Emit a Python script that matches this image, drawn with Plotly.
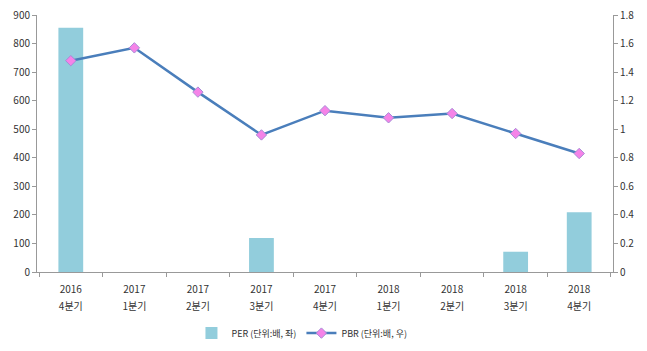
import plotly.graph_objects as go

years = ["2016", "2017", "2017", "2017", "2017", "2018", "2018", "2018", "2018"]
quarters = ["4분기", "1분기", "2분기", "3분기", "4분기", "1분기", "2분기", "3분기", "4분기"]
per_values = [855, None, None, 119, None, None, None, 71, 209]
pbr_values = [1.48, 1.57, 1.26, 0.96, 1.13, 1.08, 1.11, 0.97, 0.83]
left_ticks = [0, 100, 200, 300, 400, 500, 600, 700, 800, 900]
right_ticks = [0, 0.2, 0.4, 0.6, 0.8, 1, 1.2, 1.4, 1.6, 1.8]

categories = [f"{y}|{q}|{i}" for i, (y, q) in enumerate(zip(years, quarters))]
ticktext = [f"<span style='font-size:10px'>{y}</span><br><span style='font-size:10px'>{q}</span>"
            for y, q in zip(years, quarters)]

font_family = "Noto Sans CJK KR, DejaVu Sans, sans-serif"

fig = go.Figure()
fig.add_trace(go.Bar(
    x=categories, y=per_values, name="PER (단위:배, 좌)",
    marker=dict(color="#92CDDC", line=dict(width=0)), width=0.39, yaxis="y"
))
fig.add_trace(go.Scatter(
    x=categories, y=pbr_values, name="PBR (단위:배, 우)", yaxis="y2",
    mode="lines+markers",
    line=dict(color="#4A7EBB", width=2.5),
    marker=dict(symbol="diamond", size=8, color="#F583E8", line=dict(color="#A78BD6", width=1))
))

fig.update_layout(
    width=647, height=351,
    margin=dict(l=37, r=34, t=15, b=79, autoexpand=False),
    paper_bgcolor="white", plot_bgcolor="white",
    font=dict(family=font_family, size=10, color="#333333"),
    showlegend=True,
    legend=dict(orientation="h", x=0.46, xanchor="center",
                yref="container", y=0.051, yanchor="middle",
                font=dict(size=9, color="#333333"), itemwidth=30),
    xaxis=dict(
        automargin=False,
        tickvals=categories, ticktext=ticktext,
        showline=True, linecolor="#999999", linewidth=1,
        ticks="outside", tickson="boundaries", ticklen=4, tickcolor="#999999",
        showgrid=False, tickfont=dict(size=13), ticklabelstandoff=4
    ),
    yaxis=dict(
        automargin=False,
        range=[0, 900], tickvals=left_ticks, showline=True, linecolor="#999999",
        linewidth=1, ticks="outside", ticklen=4, tickcolor="#999999",
        showgrid=False, zeroline=False, tickfont=dict(size=10)
    ),
    yaxis2=dict(
        automargin=False,
        range=[0, 1.8], tickvals=right_ticks, overlaying="y", side="right",
        showline=True, linecolor="#999999", linewidth=1, ticks="outside",
        ticklen=4, tickcolor="#999999", showgrid=False, zeroline=False,
        tickfont=dict(size=10)
    ),
)

fig.write_html("out.html")
